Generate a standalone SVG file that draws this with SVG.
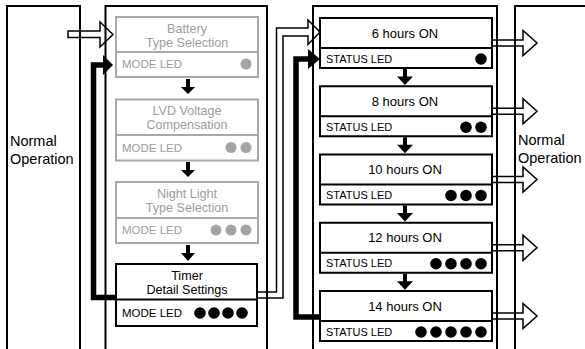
<svg xmlns="http://www.w3.org/2000/svg" width="585" height="349" viewBox="0 0 585 349">
<style>
.frame{fill:none;stroke:#000;stroke-width:2}
.gbox{fill:#fff;stroke:#a8a8a8;stroke-width:2}
.bbox{fill:#fff;stroke:#000;stroke-width:2}
.gt{font-family:"Liberation Sans",Arial,sans-serif;font-size:12.6px;fill:#9c9c9c;text-anchor:middle}
.bt{font-family:"Liberation Sans",Arial,sans-serif;font-size:12.6px;fill:#000;text-anchor:middle}
.ht{font-family:"Liberation Sans",Arial,sans-serif;font-size:13px;fill:#000;text-anchor:middle}
.gl{font-family:"Liberation Sans",Arial,sans-serif;font-size:11.5px;fill:#9c9c9c}
.bl{font-family:"Liberation Sans",Arial,sans-serif;font-size:11.5px;fill:#000}
.sl{font-family:"Liberation Sans",Arial,sans-serif;font-size:11px;fill:#000}
.no{font-family:"Liberation Sans",Arial,sans-serif;font-size:14.5px;fill:#000}
.gd{fill:#a4a4a4}
.bd{fill:#000}
.hollow{fill:none;stroke:#000;stroke-width:1.5;stroke-linejoin:miter}
.thick{fill:none;stroke:#000;stroke-width:5.5;stroke-linejoin:miter}
.ah{fill:#000}
</style>

<g id="frames">
  <path class="frame" d="M7,352 V6 H80 V352"/>
  <path class="frame" d="M105.5,352 V6 H267 V352"/>
  <path class="frame" d="M313,352 V6 H497 V352"/>
  <path class="frame" d="M515,352 V6 H590"/>
</g>

<g id="normal-left">
  <text class="no" x="10" y="146">Normal</text>
  <text class="no" x="10" y="164">Operation</text>
</g>
<g id="normal-right">
  <text class="no" x="518" y="145">Normal</text>
  <text class="no" x="518" y="163">Operation</text>
</g>

<g id="battery">
  <rect class="gbox" x="116" y="17" width="142" height="60"/>
  <line class="gbox" x1="116" y1="52" x2="258" y2="52"/>
  <text class="gt" x="187" y="32.5">Battery</text>
  <text class="gt" x="187" y="46.5">Type Selection</text>
  <text class="gl" x="122" y="68">MODE LED</text>
  <circle class="gd" cx="246" cy="64" r="5.5"/>
</g>
<g id="lvd">
  <rect class="gbox" x="116" y="99.5" width="142" height="61"/>
  <line class="gbox" x1="116" y1="135" x2="258" y2="135"/>
  <text class="gt" x="187" y="115">LVD Voltage</text>
  <text class="gt" x="187" y="129">Compensation</text>
  <text class="gl" x="122" y="151.5">MODE LED</text>
  <circle class="gd" cx="231" cy="147.5" r="5.5"/>
  <circle class="gd" cx="246" cy="147.5" r="5.5"/>
</g>
<g id="night">
  <rect class="gbox" x="116" y="182" width="142" height="61"/>
  <line class="gbox" x1="116" y1="218" x2="258" y2="218"/>
  <text class="gt" x="187" y="197.5">Night Light</text>
  <text class="gt" x="187" y="211.5">Type Selection</text>
  <text class="gl" x="122" y="234">MODE LED</text>
  <circle class="gd" cx="216" cy="230" r="5.5"/>
  <circle class="gd" cx="231" cy="230" r="5.5"/>
  <circle class="gd" cx="246" cy="230" r="5.5"/>
</g>
<g id="timer">
  <rect class="bbox" x="116" y="264" width="141" height="62"/>
  <line class="bbox" x1="116" y1="299.5" x2="257" y2="299.5"/>
  <text class="bt" x="187" y="279.5">Timer</text>
  <text class="bt" x="187" y="293.5">Detail Settings</text>
  <text class="bl" x="122" y="317">MODE LED</text>
  <circle class="bd" cx="200" cy="313" r="5.8"/>
  <circle class="bd" cx="214" cy="313" r="5.8"/>
  <circle class="bd" cx="228" cy="313" r="5.8"/>
  <circle class="bd" cx="242" cy="313" r="5.8"/>
</g>

<g id="h6">
  <rect class="bbox" x="320" y="18" width="172" height="50"/>
  <line class="bbox" x1="320" y1="48" x2="492" y2="48"/>
  <text class="ht" x="405" y="37.5">6 hours ON</text>
  <text class="sl" x="326" y="62.5">STATUS LED</text>
  <circle class="bd" cx="481" cy="59" r="5.8"/>
</g>
<g id="h8">
  <rect class="bbox" x="320" y="86.25" width="172" height="50"/>
  <line class="bbox" x1="320" y1="116.25" x2="492" y2="116.25"/>
  <text class="ht" x="405" y="105.75">8 hours ON</text>
  <text class="sl" x="326" y="130.75">STATUS LED</text>
  <circle class="bd" cx="466" cy="127.25" r="5.8"/>
  <circle class="bd" cx="481" cy="127.25" r="5.8"/>
</g>
<g id="h10">
  <rect class="bbox" x="320" y="154.5" width="172" height="50"/>
  <line class="bbox" x1="320" y1="184.5" x2="492" y2="184.5"/>
  <text class="ht" x="405" y="174">10 hours ON</text>
  <text class="sl" x="326" y="199">STATUS LED</text>
  <circle class="bd" cx="451" cy="195.5" r="5.8"/>
  <circle class="bd" cx="466" cy="195.5" r="5.8"/>
  <circle class="bd" cx="481" cy="195.5" r="5.8"/>
</g>
<g id="h12">
  <rect class="bbox" x="320" y="222.75" width="172" height="50"/>
  <line class="bbox" x1="320" y1="252.75" x2="492" y2="252.75"/>
  <text class="ht" x="405" y="242.25">12 hours ON</text>
  <text class="sl" x="326" y="267.25">STATUS LED</text>
  <circle class="bd" cx="436" cy="263.75" r="5.8"/>
  <circle class="bd" cx="451" cy="263.75" r="5.8"/>
  <circle class="bd" cx="466" cy="263.75" r="5.8"/>
  <circle class="bd" cx="481" cy="263.75" r="5.8"/>
</g>
<g id="h14">
  <rect class="bbox" x="320" y="291" width="172" height="50"/>
  <line class="bbox" x1="320" y1="321" x2="492" y2="321"/>
  <text class="ht" x="405" y="310.5">14 hours ON</text>
  <text class="sl" x="326" y="335.5">STATUS LED</text>
  <circle class="bd" cx="421" cy="332" r="5.8"/>
  <circle class="bd" cx="436" cy="332" r="5.8"/>
  <circle class="bd" cx="451" cy="332" r="5.8"/>
  <circle class="bd" cx="466" cy="332" r="5.8"/>
  <circle class="bd" cx="481" cy="332" r="5.8"/>
</g>

<g id="connectors">
  <polygon class="hollow" points="68,31 100,31 100,22 113,34.5 100,47 100,37.5 68,37.5"/>
  <path class="ah" d="M186,79 h4 v8 h5 l-7,7 l-7,-7 h5 z"/>
  <path class="ah" d="M186,162 h4 v8 h5 l-7,7 l-7,-7 h5 z"/>
  <path class="ah" d="M186,245 h4 v8 h5 l-7,8 l-7,-8 h5 z"/>
  <path class="ah" d="M403,69 h4 v7.5 h6 l-8,8.5 l-8,-8.5 h6 z"/>
  <path class="ah" d="M403,137.25 h4 v7.5 h6 l-8,8.5 l-8,-8.5 h6 z"/>
  <path class="ah" d="M403,205.5 h4 v7.5 h6 l-8,8.5 l-8,-8.5 h6 z"/>
  <path class="ah" d="M403,273.75 h4 v7.5 h6 l-8,8.5 l-8,-8.5 h6 z"/>
  <path class="thick" d="M116,297.5 H93.5 V65 H104"/>
  <polygon class="ah" points="103,55 113,65 103,75"/>
  <path class="thick" d="M320,317 H296 V59 H309"/>
  <polygon class="ah" points="308,49 320,59 308,69"/>
  <path class="hollow" d="M257,292 H276.5 V28 H308 V20 L320,32 L308,44.5 V36 H283 V298 H257"/>
  <polygon class="hollow" points="492,40 523,40 523,30.5 537,43 523,55.5 523,46 492,46"/>
  <polygon class="hollow" points="492,108.25 523,108.25 523,98.75 537,111.25 523,123.75 523,114.25 492,114.25"/>
  <polygon class="hollow" points="492,176.5 523,176.5 523,167 537,179.5 523,192 523,182.5 492,182.5"/>
  <polygon class="hollow" points="492,244.75 523,244.75 523,235.25 537,247.75 523,260.25 523,250.75 492,250.75"/>
  <polygon class="hollow" points="492,313 523,313 523,303.5 537,316 523,328.5 523,319 492,319"/>
</g>
</svg>
